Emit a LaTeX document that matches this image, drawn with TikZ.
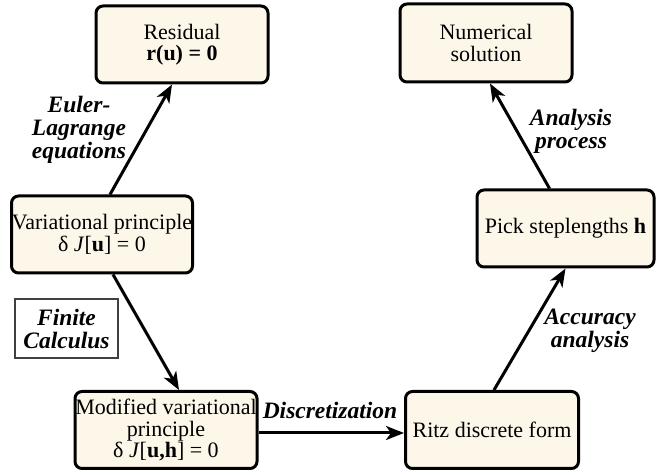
\documentclass[tikz,border=0pt]{standalone}
\usepackage{fontspec}
\setmainfont{Liberation Serif}
\usetikzlibrary{arrows.meta}
\definecolor{boxfill}{RGB}{253,247,234}
\begin{document}
\begin{tikzpicture}[x=1pt,y=-1pt,
  stagebox/.style={draw=black, line width=3pt, rounded corners=7pt, fill=boxfill,
    align=center, inner sep=0pt, font=\fontsize{22}{21.5}\selectfont},
  flow/.style={line width=3pt, -{Stealth[length=18pt,width=14pt,inset=5pt]}},
  steplabel/.style={align=center, inner sep=0pt,
    font=\fontsize{23.5}{23}\selectfont\bfseries\itshape},
  notebox/.style={draw=black!75, line width=1.2pt, fill=white, align=center,
    inner sep=0pt, font=\fontsize{23.5}{23}\selectfont\bfseries\itshape}
]
\useasboundingbox (0,0) rectangle (665,470);

% stages of the method
\node[stagebox, minimum width=172pt, minimum height=77pt] (res) at (182,44.5)
  {Residual\\\textbf{r(u) = 0}};
\node[stagebox, minimum width=172pt, minimum height=78pt] (num) at (486,43)
  {Numerical\\solution};
\node[stagebox, minimum width=181pt, minimum height=77pt] (var) at (102,234.5)
  {Variational principle\\δ \textit{J}[\textbf{u}] = 0};
\node[stagebox, minimum width=177pt, minimum height=77pt] (pick) at (565.5,228.5)
  {Pick steplengths \textbf{h}};
\node[stagebox, minimum width=182pt, minimum height=77pt] (mod) at (166,430)
  {Modified variational\\principle\\δ \textit{J}[\textbf{u,h}] = 0};
\node[stagebox, minimum width=173pt, minimum height=77pt] (ritz) at (492,430)
  {Ritz discrete form};

% side note
\node[notebox, minimum width=103pt, minimum height=59pt] (fc) at (66.5,328.5)
  {Finite\\Calculus};

% connectors
\draw[flow] ([xshift=8pt]var.north) -- ([xshift=-10pt]res.south);
\draw[flow] ([xshift=11pt]var.south) -- ([xshift=13pt]mod.north);
\draw[flow] ([yshift=-3pt]mod.east) -- ([yshift=-3pt]ritz.west);
\draw[flow] ([xshift=2pt]ritz.north) -- (pick.south);
\draw[flow] ([xshift=-16pt]pick.north) -- ([xshift=4pt]num.south);

% connector labels
\node[steplabel] (lEuler) at (79,130) {Euler-\\Lagrange\\equations};
\node[steplabel] (lAnalysis) at (571,131.5) {Analysis\\process};
\node[steplabel] (lAccuracy) at (590,331) {Accuracy\\analysis};
\node[steplabel] (lDisc) at (330,410) {Discretization};
\end{tikzpicture}
\end{document}
